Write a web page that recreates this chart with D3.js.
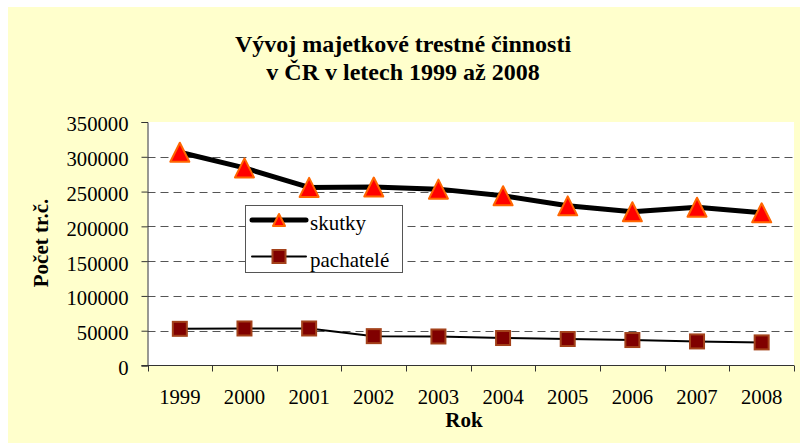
<!DOCTYPE html>
<html>
<head>
<meta charset="utf-8">
<script src="https://cdn.jsdelivr.net/npm/d3@7"></script>
<style>
  html, body { margin: 0; padding: 0; background: #ffffff; }
  svg { display: block; }
  text { font-family: "Liberation Serif", "Times New Roman", serif; fill: #000; }
</style>
</head>
<body>
<svg id="chart" width="800" height="443"></svg>
<script>
const years = ["1999", "2000", "2001", "2002", "2003", "2004", "2005", "2006", "2007", "2008"];
const skutky = [306500, 284000, 256000, 256500, 253500, 244000, 229500, 221000, 227500, 219500];
const pachatele = [52700, 53200, 53200, 42200, 41700, 39500, 38100, 36600, 34600, 33200];
const yTicks = [0, 50000, 100000, 150000, 200000, 250000, 300000, 350000];
const gridTicks = [50000, 100000, 150000, 200000, 250000, 300000];
const titleLines = ["Vývoj majetkové trestné činnosti", "v ČR v letech 1999 až 2008"];
const seriesNames = ["skutky", "pachatelé"];
const xTitle = "Rok";
const yTitle = "Počet tr.č.";

const svg = d3.select("#chart");

// chart area background
svg.append("rect").attr("x", 8).attr("y", 7).attr("width", 792).attr("height", 436).attr("fill", "#FFFFCC");

const pL = 147.5, pR = 794, pT = 122, pB = 365.5;

const x = d3.scaleBand().domain(years).range([pL, pR]).paddingInner(0).paddingOuter(0);
const y = d3.scaleLinear().domain([0, 350000]).range([pB, pT]);
const cx = d => x(d) + x.bandwidth() / 2;

// plot area
svg.append("rect").attr("x", pL).attr("y", pT).attr("width", pR - pL).attr("height", pB - pT).attr("fill", "#ffffff");

// gridlines
svg.append("g").selectAll("line").data(gridTicks).join("line")
  .attr("x1", pL).attr("x2", pR)
  .attr("y1", d => Math.round(y(d)) + 0.5).attr("y2", d => Math.round(y(d)) + 0.5)
  .attr("stroke", "#555").attr("stroke-width", 1).attr("stroke-dasharray", "8,5");

// y axis
const yAxis = svg.append("g").attr("transform", `translate(${pL},0)`)
  .call(d3.axisLeft(y).tickValues(yTicks).tickSize(6).tickPadding(13).tickFormat(d3.format("d")));
yAxis.select(".domain").attr("stroke", "#333");
yAxis.selectAll(".tick line").attr("stroke", "#333");
yAxis.selectAll(".tick text").attr("font-size", "20.7px").attr("dy", "0.43em")
  .attr("font-family", "Liberation Serif, Times New Roman, serif");

// x axis (labels at centres, ticks at category boundaries)
const xAxis = svg.append("g").attr("transform", `translate(0,${pB})`)
  .call(d3.axisBottom(x).tickSize(0).tickPadding(0));
xAxis.select(".domain").remove();
xAxis.selectAll(".tick text").attr("font-size", "20.7px").attr("y", 38.5).attr("dy", 0)
  .attr("font-family", "Liberation Serif, Times New Roman, serif");
svg.append("line").attr("x1", pL - 6).attr("x2", pR).attr("y1", pB).attr("y2", pB)
  .attr("stroke", "#333");
const bounds = years.map(d => x(d)).concat([x.range()[1]]);
svg.append("g").selectAll("line").data(bounds).join("line")
  .attr("x1", d => Math.round(d) + 0.5).attr("x2", d => Math.round(d) + 0.5)
  .attr("y1", pB).attr("y2", pB + 6).attr("stroke", "#333");

// lines
const lineGen = vals => d3.line().x((d, i) => cx(years[i])).y(d => y(d))(vals);
svg.append("path").attr("d", lineGen(pachatele)).attr("fill", "none").attr("stroke", "#000").attr("stroke-width", 2);
svg.append("path").attr("d", lineGen(skutky)).attr("fill", "none").attr("stroke", "#000").attr("stroke-width", 5)
  .attr("stroke-linejoin", "round");

// markers
const tri = (s) => `M0,${-s}L${s},${s}L${-s},${s}Z`;
svg.append("g").selectAll("path").data(skutky).join("path")
  .attr("transform", (d, i) => `translate(${cx(years[i])},${y(d)})`)
  .attr("d", tri(9.5)).attr("fill", "#FF0000").attr("stroke", "#FF6600").attr("stroke-width", 2)
  .attr("stroke-linejoin", "round");
svg.append("g").selectAll("rect").data(pachatele).join("rect")
  .attr("x", (d, i) => cx(years[i]) - 7).attr("y", d => y(d) - 7)
  .attr("width", 14).attr("height", 14)
  .attr("fill", "#800000").attr("stroke", "#A3411A").attr("stroke-width", 2);

// legend
const lg = svg.append("g");
lg.append("rect").attr("x", 245.5).attr("y", 205.5).attr("width", 157).attr("height", 67)
  .attr("fill", "#fff").attr("stroke", "#555").attr("stroke-width", 1);
lg.append("line").attr("x1", 252).attr("x2", 306).attr("y1", 220).attr("y2", 220)
  .attr("stroke", "#000").attr("stroke-width", 5).attr("stroke-linecap", "round");
lg.append("path").attr("transform", "translate(279,220)").attr("d", tri(6))
  .attr("fill", "#FF0000").attr("stroke", "#FF6600").attr("stroke-width", 2).attr("stroke-linejoin", "round");
lg.append("line").attr("x1", 252).attr("x2", 306).attr("y1", 256.5).attr("y2", 256.5)
  .attr("stroke", "#000").attr("stroke-width", 2).attr("stroke-linecap", "round");
lg.append("rect").attr("x", 272.5).attr("y", 250).attr("width", 13).attr("height", 13)
  .attr("fill", "#800000").attr("stroke", "#A3411A").attr("stroke-width", 2);
lg.append("text").attr("x", 310).attr("y", 230).attr("font-size", "21px").text(seriesNames[0]);
lg.append("text").attr("x", 310).attr("y", 266.5).attr("font-size", "21px").text(seriesNames[1]);

// titles
svg.append("g").selectAll("text").data(titleLines).join("text")
  .attr("x", 403).attr("y", (d, i) => 52 + i * 28)
  .attr("text-anchor", "middle").attr("font-size", "24px").attr("font-weight", "bold").text(d => d);
svg.append("text").attr("x", 464).attr("y", 427).attr("text-anchor", "middle")
  .attr("font-size", "21px").attr("font-weight", "bold").text(xTitle);
svg.append("text").attr("transform", "translate(48,243) rotate(-90)").attr("text-anchor", "middle")
  .attr("font-size", "21px").attr("font-weight", "bold").text(yTitle);
</script>
</body>
</html>
